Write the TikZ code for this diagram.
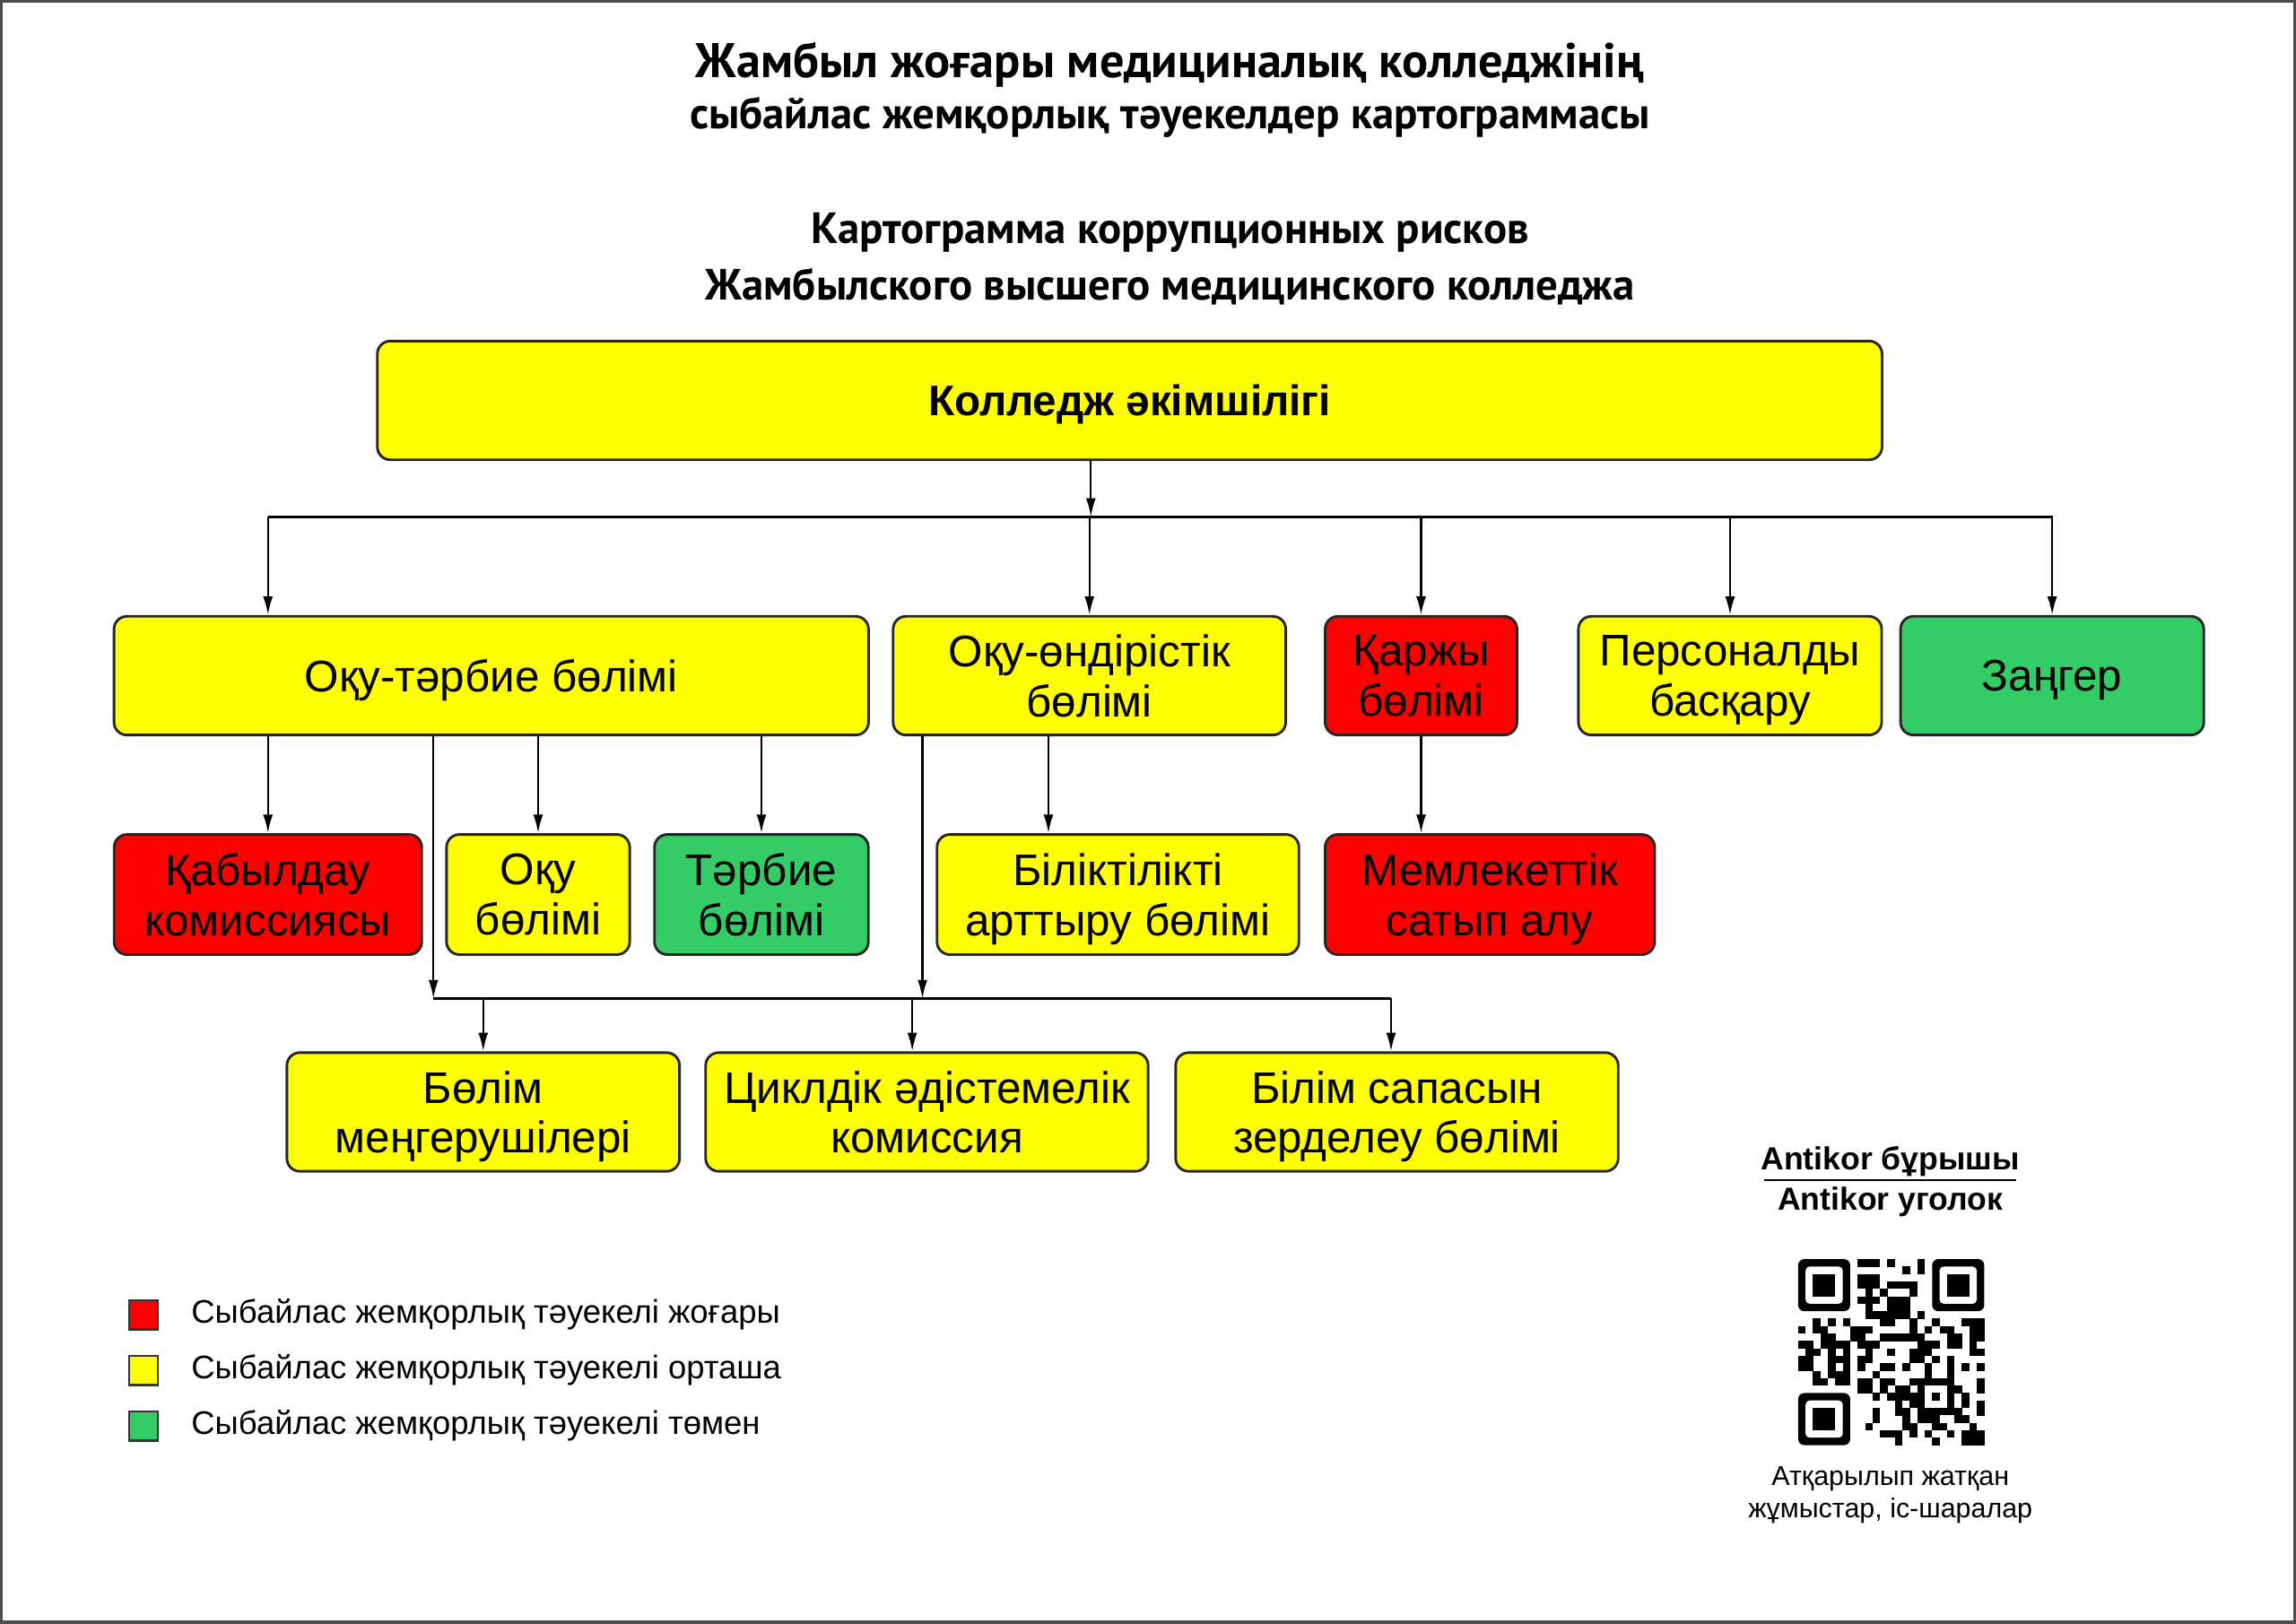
\documentclass[tikz,border=0pt]{standalone}
\usepackage{fontspec}
\setmainfont{Liberation Sans}
\newfontfamily\headfont{PT Sans}
\usetikzlibrary{arrows.meta}
\definecolor{riskhigh}{RGB}{255,0,0}
\definecolor{riskmid}{RGB}{255,255,0}
\definecolor{risklow}{RGB}{51,204,102}

\begin{document}
\begin{tikzpicture}[x=0.01cm,y=-0.01cm,
	box/.style={draw=black!85,line width=0.5pt,rounded corners=2.5pt,align=center,inner sep=0pt,text depth=0pt,font=\fontsize{8.6}{9.7}\selectfont},
	boxhigh/.style={box,fill=riskhigh},
	boxmid/.style={box,fill=riskmid},
	boxlow/.style={box,fill=risklow},
	arr/.style={-{Latex[length=3.6pt,width=1.9pt]},line width=0.4pt},
	bus/.style={line width=0.6pt},
	key/.style={draw=black!80,line width=0.4pt,minimum size=0.2cm,inner sep=0pt},
	keytext/.style={anchor=west,inner sep=0pt,font=\fontsize{6.35}{8}\selectfont},
	head/.style={inner sep=0pt,font=\headfont\bfseries\fontsize{8.5}{10}\selectfont}]
		\useasboundingbox (0,0) rectangle (1568,1109);
		\draw[black!70,line width=1.2pt] (0,0) rectangle (1568,1109);
		%
		\node[head,font=\headfont\bfseries\fontsize{9.45}{10}\selectfont] (titlekz) at (799,44) {Жамбыл жоғары медициналық колледжінің};
		\node[head] (titlekz2) at (799,80) {сыбайлас жемқорлық тәуекелдер картограммасы};
		\node[head] (titleru) at (799,159) {Картограмма коррупционных рисков};
		\node[head] (titleru2) at (799,196) {Жамбылского высшего медицинского колледжа};
		%
		\node[boxmid,minimum width=10.27cm,minimum height=0.81cm,font=\bfseries\fontsize{8.3}{10}\selectfont] (admin) at (771.5,273.5) {Колледж әкімшілігі};
		%
		\node[boxmid,minimum width=5.15cm,minimum height=0.81cm] (ot) at (335.5,461.5) {Оқу-тәрбие бөлімі};
		\node[boxmid,minimum width=2.68cm,minimum height=0.81cm] (oo) at (744,461.5) {Оқу-өндірістік\\бөлімі};
		\node[boxhigh,minimum width=1.31cm,minimum height=0.81cm] (fin) at (970.5,461.5) {Қаржы\\бөлімі};
		\node[boxmid,minimum width=2.07cm,minimum height=0.81cm] (pers) at (1181.5,461.5) {Персоналды\\басқару};
		\node[boxlow,minimum width=2.07cm,minimum height=0.81cm] (law) at (1401.5,461.5) {Заңгер};
		%
		\node[boxhigh,minimum width=2.10cm,minimum height=0.82cm] (kab) at (183,611) {Қабылдау\\комиссиясы};
		\node[boxmid,minimum width=1.25cm,minimum height=0.82cm] (oku) at (367.5,611) {Оқу\\бөлімі};
		\node[boxlow,minimum width=1.46cm,minimum height=0.82cm] (tar) at (520,611) {Тәрбие\\бөлімі};
		\node[boxmid,minimum width=2.47cm,minimum height=0.82cm] (bil) at (763.5,611) {Біліктілікті\\арттыру бөлімі};
		\node[boxhigh,minimum width=2.25cm,minimum height=0.82cm] (mem) at (1017.5,611) {Мемлекеттік\\сатып алу};
		%
		\node[boxmid,minimum width=2.68cm,minimum height=0.81cm] (bm) at (330,759.5) {Бөлім\\меңгерушілері};
		\node[boxmid,minimum width=3.02cm,minimum height=0.81cm] (cyc) at (633,759.5) {Циклдік әдістемелік\\комиссия};
		\node[boxmid,minimum width=3.02cm,minimum height=0.81cm] (bsz) at (954,759.5) {Білім сапасын\\зерделеу бөлімі};
		%
		\coordinate (busA) at (745,353);
		\coordinate (busL) at (183,353);
		\coordinate (busR) at (1402,353);
		\draw[arr] (admin.south -| busA) -- (busA);
		\draw[bus] (busL) -- (busR);
		\draw[arr] (busL) -- (busL |- ot.north);
		\foreach \n in {oo,fin,pers,law} \draw[arr] (busL -| \n.north) -- (\n.north);
		%
		\foreach \n in {kab,oku,tar} \draw[arr] (ot.south -| \n.north) -- (\n.north);
		\coordinate (bilin) at (716,540);
		\draw[arr] (oo.south -| bilin) -- (bil.north -| bilin);
		\draw[arr] (fin.south) -- (mem.north -| fin.south);
		%
		\coordinate (lowL) at (296,682);
		\coordinate (lowM) at (630,682);
		\coordinate (lowR) at (950,682);
		\coordinate (cycin) at (623,682);
		\draw[arr] (ot.south -| lowL) -- (lowL);
		\draw[arr] (oo.south -| lowM) -- (lowM);
		\draw[bus] (lowL) -- (lowR);
		\draw[arr] (lowL -| bm.north) -- (bm.north);
		\draw[arr] (cycin) -- (cyc.north -| cycin);
		\draw[arr] (lowR) -- (lowR |- bsz.north);
		%
		\node[key,fill=riskhigh] (keyhigh) at (98,898) {};
		\node[key,fill=riskmid] (keymid) at (98,936) {};
		\node[key,fill=risklow] (keylow) at (98,974) {};
		\node[keytext] (txthigh) at (130,898) {Сыбайлас жемқорлық тәуекелі жоғары};
		\node[keytext] (txtmid) at (130,936) {Сыбайлас жемқорлық тәуекелі орташа};
		\node[keytext] (txtlow) at (130,974) {Сыбайлас жемқорлық тәуекелі төмен};
		%
		\node[font=\bfseries\fontsize{6.2}{7}\selectfont] (corner) at (1291,793) {Antikor бұрышы};
		\node[font=\bfseries\fontsize{6.2}{7}\selectfont] (cornerru) at (1291,821) {Antikor уголок};
		\draw[line width=0.4pt] (1205,806) -- (1377,806);
		\node[font=\fontsize{5.3}{6.3}\selectfont,align=center] (works) at (1291,1021) {Атқарылып жатқан\\жұмыстар, іс-шаралар};
		%
		\begin{scope}[shift={(1228,860)},x=0.0508cm,y=-0.0508cm]
			\foreach \px/\py in {0/0,18/0,0/18}{
				\fill[black,rounded corners=1.2pt] (\px,\py) rectangle ++(7,7);
				\fill[white,rounded corners=0.8pt] (\px+1,\py+1) rectangle ++(5,5);
				\fill[black] (\px+2,\py+2) rectangle ++(3,3);
			}
			\fill (16,16) rectangle ++(5,5);
			\fill[white] (17,17) rectangle ++(3,3);
			\fill (18,18) rectangle ++(1,1);
			\pgfmathsetseed{41}
			\foreach \i in {0,...,24}{
				\foreach \j in {0,...,24}{
					\pgfmathrandominteger{\bit}{0}{1}
					\pgfmathtruncatemacro\keep{((\i<8 && \j<8) || (\i>16 && \j<8) || (\i<8 && \j>16) || (\i>15 && \i<21 && \j>15 && \j<21)) ? 0 : \bit}
					\ifnum\keep=1 \fill (\i,\j) rectangle ++(1.02,1.02); \fi
				}
			}
		\end{scope}
	\end{tikzpicture}
\end{document}
